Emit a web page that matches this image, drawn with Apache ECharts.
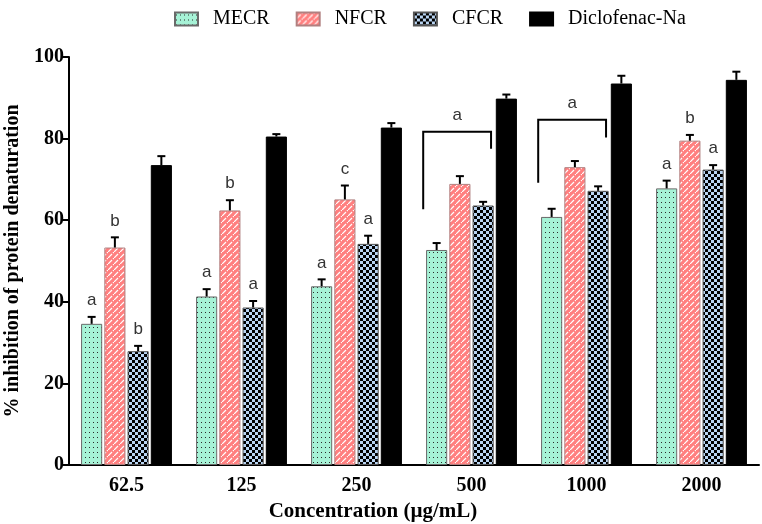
<!DOCTYPE html>
<html>
<head>
<meta charset="utf-8">
<script src="https://cdn.jsdelivr.net/npm/echarts@6/dist/echarts.min.js"></script>
<style>
  html, body { margin: 0; padding: 0; background: #fff; }
  #chart { width: 762px; height: 524px; }
</style>
</head>
<body>
<div id="chart"></div>
<script>
/* Grouped bars: % inhibition of protein denaturation by concentration. */
const categories = ["62.5", "125", "250", "500", "1000", "2000"];
const seriesNames = ["MECR", "NFCR", "CFCR", "Diclofenac-Na"];

const mecr = [34.6, 41.3, 43.8, 52.7, 60.8, 67.8];
const nfcr = [53.3, 62.4, 65.1, 68.9, 73.0, 79.5];
const cfcr = [27.9, 38.6, 54.2, 63.6, 67.2, 72.4];
const diclo = [73.5, 80.5, 82.7, 89.8, 93.5, 94.4];

// upper error (SEM) for each bar
const mecrErr = [1.7, 1.8, 1.7, 1.7, 2.0, 1.9];
const nfcrErr = [2.5, 2.5, 3.4, 1.9, 1.5, 1.4];
const cfcrErr = [1.3, 1.6, 2.0, 0.9, 1.1, 1.1];
const dicloErr = [2.2, 0.6, 1.1, 1.0, 1.9, 2.0];

// significance letters above bars ("" = none)
const mecrSig = ["a", "a", "a", "", "", "a"];
const nfcrSig = ["b", "b", "c", "", "", "b"];
const cfcrSig = ["b", "a", "a", "", "", "a"];
const dicloSig = ["", "", "", "", "", ""];

// brackets: [category index, top, left leg bottom, right leg bottom, letter]
const brackets = [
  [3, 81.7, 62.7, 77.5, "a"],
  [4, 84.6, 69.2, 80.3, "a"],
];

const values = [mecr, nfcr, cfcr, diclo];
const errs = [mecrErr, nfcrErr, cfcrErr, dicloErr];
const sigs = [mecrSig, nfcrSig, cfcrSig, dicloSig];

const CAT_GAP = 0.21, BAR_GAP = 0.1, NBARS = 4;

function makePattern(w, h, draw) {
  const c = document.createElement("canvas");
  c.width = w; c.height = h;
  draw(c.getContext("2d"));
  return { image: c, repeat: "repeat" };
}
const dots = makePattern(4, 5, (g) => {
  g.fillStyle = "#a6f2d6"; g.fillRect(0, 0, 4, 5);
  g.fillStyle = "#2a2a2a"; g.fillRect(1, 2, 1, 1);
});
const hatch = makePattern(6, 6, (g) => {
  g.fillStyle = "#ff7f7f"; g.fillRect(0, 0, 6, 6);
  g.strokeStyle = "#ffffff"; g.lineWidth = 1.2;
  g.beginPath(); g.moveTo(0, 6); g.lineTo(4, 2); g.stroke();
  g.beginPath(); g.moveTo(5, 1); g.lineTo(6, 0); g.stroke();
});
const checker = makePattern(6, 6, (g) => {
  g.fillStyle = "#b9d4f2"; g.fillRect(0, 0, 6, 6);
  g.fillStyle = "#000"; g.fillRect(0, 0, 3, 3); g.fillRect(3, 3, 3, 3);
});
const fills = [dots, hatch, checker, "#000"];
const borders = ["#6a6a6a", "#b08080", "#555", "#000"];

function barOffset(bandW, s) {
  const used = bandW * (1 - CAT_GAP);
  const bw = used / (NBARS + (NBARS - 1) * BAR_GAP);
  return -used / 2 + bw / 2 + s * bw * (1 + BAR_GAP);
}

const serif = "'Liberation Serif', 'Times New Roman', serif";
const sans = "'Liberation Sans', Arial, sans-serif";

const barSeries = seriesNames.map((n, s) => ({
  name: n, type: "bar",
  barCategoryGap: (CAT_GAP * 100) + "%", barGap: (BAR_GAP * 100) + "%",
  itemStyle: { color: fills[s], borderColor: borders[s], borderWidth: 1 },
  data: values[s],
  z: 2,
}));

const errSeries = seriesNames.map((n, s) => ({
  name: n + " err", type: "custom", z: 3,
  data: values[s].map((v, i) => [i, v, errs[s][i]]),
  renderItem: (params, api) => {
    const i = api.value(0), v = api.value(1), e = api.value(2);
    const bandW = api.size([1, 0])[0];
    const base = api.coord([i, v]);
    const top = api.coord([i, v + e]);
    const x = base[0] + barOffset(bandW, s);
    const children = [
      { type: "line", shape: { x1: x, y1: base[1], x2: x, y2: top[1] }, style: { stroke: "#000", lineWidth: 2 } },
      { type: "line", shape: { x1: x - 4, y1: top[1], x2: x + 4, y2: top[1] }, style: { stroke: "#000", lineWidth: 2 } },
    ];
    const letter = sigs[s][params.dataIndex];
    if (letter) {
      children.push({ type: "text", x: x, y: top[1] - 8,
        style: { text: letter, fill: "#333", font: "17px " + sans, align: "center", verticalAlign: "bottom" } });
    }
    return { type: "group", children };
  },
}));

const bracketSeries = {
  name: "brackets", type: "custom", z: 4,
  data: brackets.map((b) => [b[0], b[1], b[2], b[3]]),
  renderItem: (params, api) => {
    const i = api.value(0);
    const bandW = api.size([1, 0])[0];
    const c = api.coord([i, api.value(1)]);
    const yl = api.coord([i, api.value(2)])[1];
    const yr = api.coord([i, api.value(3)])[1];
    const xl = c[0] - bandW * 0.42, xr = c[0] + bandW * 0.17;
    return { type: "group", children: [
      { type: "polyline", shape: { points: [[xl, yl], [xl, c[1]], [xr, c[1]], [xr, yr]] },
        style: { stroke: "#000", lineWidth: 2, fill: null } },
      { type: "text", x: (xl + xr) / 2, y: c[1] - 8,
        style: { text: brackets[params.dataIndex][4], fill: "#333", font: "17px " + sans, align: "center", verticalAlign: "bottom" } },
    ] };
  },
};

const chart = echarts.init(document.getElementById("chart"));
chart.setOption({
  animation: false,
  legend: {
    data: seriesNames, top: 4, left: 169, icon: "rect", itemWidth: 23, itemHeight: 13, itemGap: 26,
    textStyle: { fontFamily: serif, fontSize: 20, color: "#000", padding: [0, 0, 0, 10] },
  },
  grid: { left: 69, right: 3, top: 57, bottom: 59, containLabel: false, outerBoundsMode: "none" },
  xAxis: {
    type: "category", data: categories,
    name: "Concentration (\u00b5g/mL)", nameLocation: "middle", nameGap: 34,
    nameTextStyle: { fontFamily: serif, fontWeight: "bold", fontSize: 21, color: "#000", padding: [0, 82, 0, 0] },
    axisLine: { lineStyle: { color: "#000", width: 2 } },
    axisTick: { alignWithLabel: true, length: 6, lineStyle: { color: "#000", width: 2 } },
    axisLabel: { fontFamily: serif, fontWeight: "bold", fontSize: 20, color: "#000", margin: 11 },
  },
  yAxis: {
    type: "value", min: 0, max: 100, interval: 20,
    name: "% inhibition of protein denaturation", nameLocation: "middle", nameGap: 46, nameRotate: 90,
    nameTextStyle: { fontFamily: serif, fontWeight: "bold", fontSize: 20, color: "#000" },
    axisLine: { show: true, lineStyle: { color: "#000", width: 2 } },
    axisTick: { show: true, length: 6, lineStyle: { color: "#000", width: 2 } },
    axisLabel: { fontFamily: serif, fontWeight: "bold", fontSize: 20, color: "#000", margin: 5 },
    splitLine: { show: false },
  },
  series: [...barSeries, ...errSeries, bracketSeries],
});
</script>
</body>
</html>
